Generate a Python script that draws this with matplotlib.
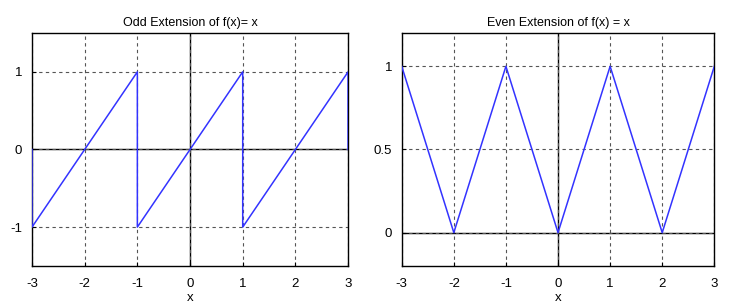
import matplotlib.pyplot as plt

plt.rcParams['font.family'] = 'Liberation Sans'
plt.rcParams['font.size'] = 9.5

# odd extension of f(x)=x on [-3, 3] (sawtooth with vertical jumps)
x_odd = [-3, -3, -1, -1, 1, 1, 3, 3]
y_odd = [0, -1, 1, -1, 1, -1, 1, 0]

# even extension of f(x)=x (triangle wave)
x_even = [-3, -2, -1, 0, 1, 2, 3]
y_even = [1, 0, 1, 0, 1, 0, 1]

xticks = [-3, -2, -1, 0, 1, 2, 3]

fig = plt.figure(figsize=(7.39, 3.06), dpi=100)
ax = fig.add_axes([0.0433, 0.131, 0.4277, 0.761])
ax2 = fig.add_axes([0.5436, 0.131, 0.4230, 0.761])

def style(a):
    a.set_xlim(-3, 3)
    a.set_xticks(xticks)
    a.set_xticklabels([str(t) for t in xticks])
    a.grid(True, linestyle=(0, (3, 3)), color='#555555', linewidth=0.8)
    a.axhline(0, color='black', linewidth=1.0, zorder=1)
    a.axvline(0, color='black', linewidth=1.0, zorder=1)
    a.tick_params(direction='in', length=3)
    a.tick_params(axis='x', pad=9)
    a.tick_params(axis='y', pad=7)
    for s in a.spines.values():
        s.set_linewidth(1.0)
    a.set_xlabel("x", labelpad=1)

ax.plot(x_odd, y_odd, color='#3333ff', linewidth=1.1, zorder=3)
ax.set_ylim(-1.5, 1.5)
ax.set_yticks([-1, 0, 1])
ax.set_yticklabels(["-1", "0", "1"])
ax.set_title("Odd Extension of f(x)= x", fontsize=9, pad=5)
style(ax)

ax2.plot(x_even, y_even, color='#3333ff', linewidth=1.1, zorder=3)
ax2.set_ylim(-0.2, 1.2)
ax2.set_yticks([0, 0.5, 1])
ax2.set_yticklabels(["0", "0.5", "1"])
ax2.set_title("Even Extension of f(x) = x", fontsize=9, pad=5)
style(ax2)

fig.savefig("out.png", dpi=100)
